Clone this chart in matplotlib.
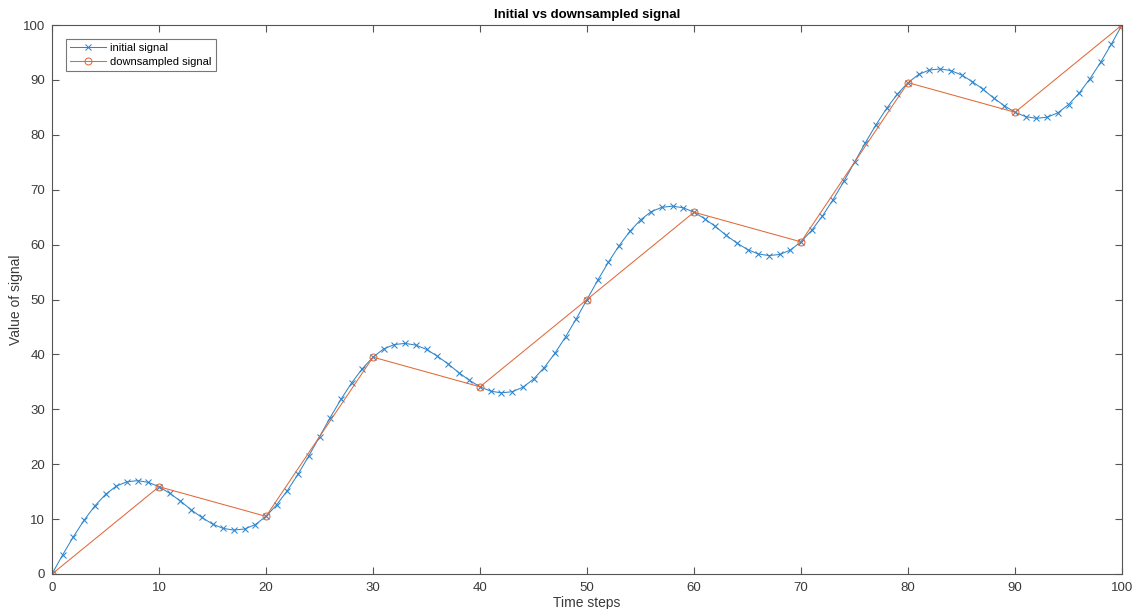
import numpy as np
import matplotlib
matplotlib.use("Agg")
import matplotlib.pyplot as plt

# Signal samples, one per time step
time_steps = list(range(0, 101))
initial_signal = [
    0, 3.5, 6.8, 9.8, 12.4, 14.5, 16.0, 16.8, 17.0, 16.7,
    15.9, 14.7, 13.3, 11.7, 10.3, 9.1, 8.3, 8.0, 8.2, 9.0,
    10.5, 12.6, 15.2, 18.2, 21.5, 25.0, 28.5, 31.8, 34.8, 37.4,
    39.5, 41.0, 41.8, 42.0, 41.7, 40.9, 39.7, 38.3, 36.7, 35.3,
    34.1, 33.3, 33.0, 33.2, 34.0, 35.5, 37.6, 40.2, 43.2, 46.5,
    50.0, 53.5, 56.8, 59.8, 62.4, 64.5, 66.0, 66.8, 67.0, 66.7,
    65.9, 64.7, 63.3, 61.7, 60.3, 59.1, 58.3, 58.0, 58.2, 59.0,
    60.5, 62.6, 65.2, 68.2, 71.5, 75.0, 78.5, 81.8, 84.8, 87.4,
    89.5, 91.0, 91.8, 92.0, 91.7, 90.9, 89.7, 88.3, 86.7, 85.3,
    84.1, 83.3, 83.0, 83.2, 84.0, 85.5, 87.6, 90.2, 93.2, 96.5,
    100.0,
]

# Every tenth sample
down_steps = [0, 10, 20, 30, 40, 50, 60, 70, 80, 90, 100]
down_signal = [0, 15.9, 10.5, 39.5, 34.1, 50.0, 65.9, 60.5, 89.5, 84.1, 100.0]

blue = "#2f86cc"
orange = "#e0693a"
text_col = "#3a3a3a"
axis_col = "#555555"

plt.rcParams["font.family"] = ["Liberation Sans", "DejaVu Sans"]

fig = plt.figure(figsize=(11.37, 6.09), dpi=100)
ax = fig.add_axes([52 / 1137, 1 - 574 / 609, (1122 - 52) / 1137, (574 - 25) / 609])

ax.plot(time_steps, initial_signal, color=blue, lw=0.75, marker="x",
        markersize=4, markeredgewidth=0.75, label="initial signal")
ax.plot(down_steps, down_signal, color=orange, lw=0.75, marker="o",
        markersize=5, markerfacecolor="none", markeredgewidth=0.75,
        label="downsampled signal")

ax.set_xlim(0, 100)
ax.set_ylim(0, 100)
ax.set_xticks(np.arange(0, 101, 10))
ax.set_yticks(np.arange(0, 101, 10))

for side in ax.spines.values():
    side.set_color(axis_col)
    side.set_linewidth(0.8)
ax.tick_params(direction="in", length=5, width=0.8, colors=axis_col,
               labelcolor=text_col, labelsize=9.5, top=True, right=True)
ax.tick_params(axis="x", pad=6)
ax.tick_params(axis="y", pad=5)

ax.set_title("Initial vs downsampled signal", fontsize=9.5, fontweight="bold",
             color="black", pad=5)
ax.set_xlabel("Time steps", fontsize=10, color=text_col, va="center")
ax.xaxis.set_label_coords(0.5, -0.052)
ax.set_ylabel("Value of signal", fontsize=10, color=text_col, va="center")
ax.yaxis.set_label_coords(-0.034, 0.5)

leg = ax.legend(loc="upper left", bbox_to_anchor=(0.013, 0.975), fontsize=8,
                frameon=True, fancybox=False, borderpad=0.4, handlelength=3.2,
                handletextpad=0.4, labelspacing=0.3, borderaxespad=0)
leg.get_frame().set_edgecolor(axis_col)
leg.get_frame().set_linewidth(0.8)

fig.savefig("out.png", dpi=100)
